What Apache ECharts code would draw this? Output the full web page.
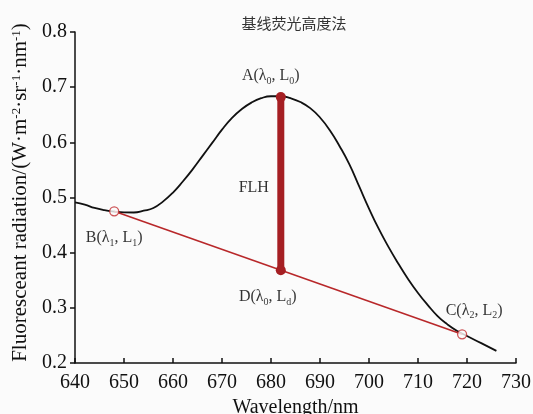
<!DOCTYPE html>
<html>
<head>
<meta charset="utf-8">
<script src="https://cdn.jsdelivr.net/npm/echarts@6/dist/echarts.min.js"></script>
<style>
  html, body { margin: 0; padding: 0; background: #fbfbfb; }
  #chart { width: 533px; height: 414px; }
</style>
</head>
<body>
<div id="chart"></div>
<script>
// Spectrum: wavelength (nm) and fluorescent radiance
const wavelengths = [640, 642, 644, 646, 648, 650, 652, 654, 656, 658, 660, 662, 664, 666, 668, 670,
  672, 674, 676, 678, 680, 682, 684, 686, 688, 690, 692, 694, 696, 698, 700, 702, 704, 706, 708,
  710, 712, 714, 716, 718, 720, 722, 724, 726];
const radiance = [0.491, 0.487, 0.481, 0.477, 0.4745, 0.473, 0.4728, 0.476, 0.481, 0.493, 0.509,
  0.529, 0.551, 0.575, 0.599, 0.623, 0.644, 0.660, 0.672, 0.680, 0.6835, 0.6835, 0.680, 0.673,
  0.662, 0.645, 0.622, 0.593, 0.560, 0.520, 0.480, 0.443, 0.410, 0.380, 0.352, 0.327, 0.305,
  0.285, 0.270, 0.258, 0.249, 0.240, 0.231, 0.222];

// Baseline end points B, C and the peak A
const pointB = [648, 0.475];
const pointC = [719, 0.252];
const pointA = [682, 0.682];

// Baseline value under the peak wavelength gives D
const lambda0 = pointA[0];
const Ld = pointB[1] + (lambda0 - pointB[0]) / (pointC[0] - pointB[0]) * (pointC[1] - pointB[1]);
const pointD = [lambda0, Ld];

const xTicks = { min: 640, max: 730, step: 10 };
const yTicks = { min: 0.2, max: 0.8, step: 0.1 };

const curve = wavelengths.map((w, i) => [w, radiance[i]]);

const serif = '"Liberation Serif", "DejaVu Serif", serif';
const BG = '#fbfbfb';
const INK = '#111';

const subRich = {
  m: { fontFamily: serif, fontSize: 16, color: '#000', lineHeight: 20 },
  s: { fontFamily: serif, fontSize: 10, color: '#000', verticalAlign: 'bottom', lineHeight: 12 }
};

function ptLabel(text, dx, dy) {
  return {
    show: true,
    position: 'inside',
    align: 'center',
    verticalAlign: 'middle',
    offset: [dx, dy],
    color: '#000',
    textBorderWidth: 0,
    formatter: text,
    rich: subRich
  };
}

const chart = echarts.init(document.getElementById('chart'), null, { renderer: 'canvas' });

chart.setOption({
  backgroundColor: BG,
  animation: false,
  title: {
    text: '基线荧光高度法',
    left: 289,
    top: 11,
    textAlign: 'center',
    textStyle: { fontFamily: '"Noto Sans CJK SC"', fontSize: 15, fontWeight: 'normal', color: '#333' }
  },
  grid: { left: 75, right: 17, top: 32, bottom: 51, containLabel: false, outerBoundsMode: 'none' },
  xAxis: {
    type: 'value',
    min: xTicks.min,
    max: xTicks.max,
    interval: xTicks.step,
    name: 'Wavelength/nm',
    nameLocation: 'middle',
    nameGap: 33,
    nameTextStyle: { fontFamily: serif, fontSize: 20, color: INK },
    axisLine: { lineStyle: { color: INK, width: 1.5 } },
    axisTick: { inside: true, length: 5, lineStyle: { color: INK, width: 1.5 } },
    axisLabel: { fontFamily: serif, fontSize: 20, color: INK, margin: 10 },
    splitLine: { show: false }
  },
  yAxis: {
    type: 'value',
    min: yTicks.min,
    max: yTicks.max,
    interval: yTicks.step,
    name: 'Fluoresceant radiation/(W·m{p|-2}·sr{p|-1}·nm{p|-1})',
    nameLocation: 'middle',
    nameGap: 44,
    nameTextStyle: {
      fontFamily: serif, fontSize: 21, color: INK,
      padding: [0, 0, 0, 10],
      rich: {
        p: { fontFamily: serif, fontSize: 13, color: INK, verticalAlign: 'top', lineHeight: 14 }
      }
    },
    axisLine: { show: true, lineStyle: { color: INK, width: 1.5 } },
    axisTick: { show: true, inside: false, length: 5, lineStyle: { color: INK, width: 1.5 } },
    axisLabel: {
      fontFamily: serif, fontSize: 20, color: INK, margin: 8,
      formatter: v => v.toFixed(1)
    },
    splitLine: { show: false }
  },
  series: [
    {
      name: 'spectrum',
      type: 'line',
      data: curve,
      smooth: true,
      showSymbol: false,
      lineStyle: { color: INK, width: 1.8 },
      z: 2
    },
    {
      name: 'baseline',
      type: 'line',
      data: [pointB, pointC],
      showSymbol: false,
      lineStyle: { color: '#b8282a', width: 1.6 },
      z: 3
    },
    {
      name: 'FLH',
      type: 'line',
      data: [pointA, pointD],
      symbol: 'circle',
      symbolSize: 10,
      showSymbol: true,
      itemStyle: { color: '#a51f23' },
      lineStyle: { color: '#a51f23', width: 7 },
      z: 4
    },
    {
      name: 'points',
      type: 'scatter',
      symbol: 'circle',
      symbolSize: 1,
      itemStyle: { color: 'rgba(0,0,0,0)' },
      z: 6,
      data: [
        { value: pointA, label: ptLabel('{m|A(λ}{s|0}{m|, L}{s|0}{m|)}', -10, -21) },
        { value: pointD, label: ptLabel('{m|D(λ}{s|0}{m|, L}{s|d}{m|)}', -13, 27) },
        { value: [lambda0, (pointA[1] + pointD[1]) / 2], label: ptLabel('{m|FLH}', -27, 4) }
      ]
    },
    {
      name: 'ends',
      type: 'scatter',
      symbol: 'circle',
      symbolSize: 9,
      itemStyle: { color: BG, borderColor: '#c0282c', borderWidth: 1.3 },
      z: 5,
      data: [
        { value: pointB, label: ptLabel('{m|B(λ}{s|1}{m|, L}{s|1}{m|)}', 0, 27) },
        { value: pointC, label: ptLabel('{m|C(λ}{s|2}{m|, L}{s|2}{m|)}', 12, -24) }
      ]
    }
  ]
});
</script>
</body>
</html>
